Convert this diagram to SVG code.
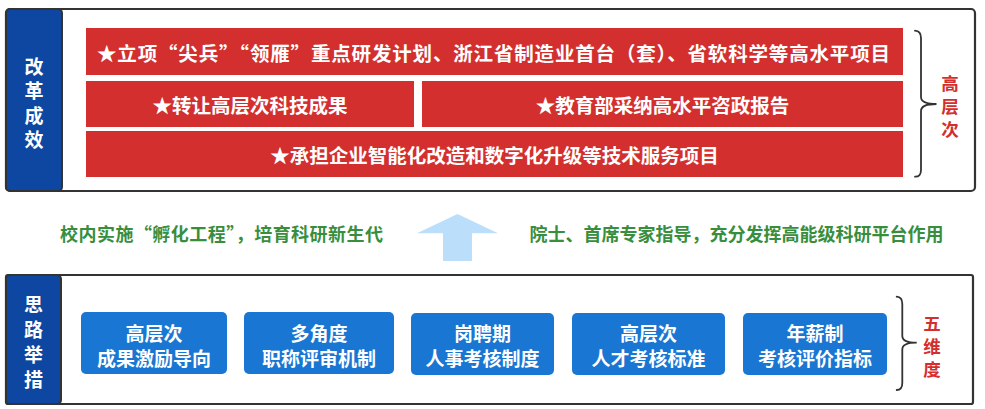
<svg xmlns="http://www.w3.org/2000/svg" width="985" height="409" viewBox="0 0 985 409">
<style>
text{font-family:"Noto Sans CJK SC","Noto Sans",sans-serif;font-weight:700;}
.frame{fill:#fff;stroke:#333;stroke-width:2.2;}
.label{fill:#0D47A1;stroke:#333;stroke-width:2;}
.lt{fill:#fff;font-size:19px;text-anchor:middle;dominant-baseline:central;}
.red{fill:#D32F2F;}
.rt{fill:#fff;font-size:19.5px;text-anchor:middle;dominant-baseline:central;}
.blue{fill:#1976D2;}
.bt{fill:#fff;font-size:19px;text-anchor:middle;dominant-baseline:central;}
.gt{fill:#388E3C;font-size:18px;text-anchor:middle;dominant-baseline:central;}
.side{fill:#D32F2F;font-size:17.5px;text-anchor:middle;dominant-baseline:central;}
.brace{fill:none;stroke:#333;stroke-width:1.8;stroke-linecap:round;}
</style>

<g id="top-panel">
  <rect class="frame" x="6" y="9" width="969" height="182" rx="4"/>
  <rect class="label" x="6" y="9" width="56" height="182" rx="4"/>
  <text class="lt" x="34" y="65">改</text>
  <text class="lt" x="34" y="89.5">革</text>
  <text class="lt" x="34" y="114">成</text>
  <text class="lt" x="34" y="138.5">效</text>
</g>

<g id="result-1">
  <rect class="red" x="86" y="28" width="817" height="47"/>
  <text class="rt" x="493.5" y="52" textLength="793" lengthAdjust="spacing">★立项“尖兵”“领雁”重点研发计划、浙江省制造业首台（套）、省软科学等高水平项目</text>
</g>
<g id="result-2">
  <rect class="red" x="86" y="81" width="328" height="46"/>
  <text class="rt" x="250" y="104.5">★转让高层次科技成果</text>
</g>
<g id="result-3">
  <rect class="red" x="422" y="81" width="481" height="46"/>
  <text class="rt" x="662.5" y="104.5">★教育部采纳高水平咨政报告</text>
</g>
<g id="result-4">
  <rect class="red" x="86" y="131" width="817" height="46"/>
  <text class="rt" x="494.5" y="154.5">★承担企业智能化改造和数字化升级等技术服务项目</text>
</g>

<g id="tag-high">
  <text class="side" x="950" y="82.5">高</text>
  <text class="side" x="950" y="105.5">层</text>
  <text class="side" x="950" y="128.5">次</text>
</g>

<g id="note-left">
  <text class="gt" x="221.5" y="233" textLength="323" lengthAdjust="spacing">校内实施“孵化工程”，培育科研新生代</text>
</g>
<g id="note-right">
  <text class="gt" x="736.5" y="233">院士、首席专家指导，充分发挥高能级科研平台作用</text>
</g>

<g id="bottom-panel">
  <rect class="frame" x="6" y="275" width="967" height="129" rx="2"/>
  <rect class="label" x="6" y="275" width="55" height="129" rx="4"/>
  <text class="lt" x="33.5" y="303">思</text>
  <text class="lt" x="33.5" y="328">路</text>
  <text class="lt" x="33.5" y="353">举</text>
  <text class="lt" x="33.5" y="378">措</text>
</g>

<g id="measure-1">
  <rect class="blue" x="81" y="312" width="146" height="62" rx="5"/>
  <text class="bt" x="154" y="332.5">高层次</text>
  <text class="bt" x="154" y="357">成果激励导向</text>
</g>
<g id="measure-2">
  <rect class="blue" x="244" y="312" width="150" height="62" rx="5"/>
  <text class="bt" x="319" y="332.5">多角度</text>
  <text class="bt" x="319" y="357">职称评审机制</text>
</g>
<g id="measure-3">
  <rect class="blue" x="411" y="313" width="143" height="62" rx="5"/>
  <text class="bt" x="482.5" y="332.5">岗聘期</text>
  <text class="bt" x="482.5" y="357">人事考核制度</text>
</g>
<g id="measure-4">
  <rect class="blue" x="572" y="313" width="153" height="62" rx="5"/>
  <text class="bt" x="648.5" y="332.5">高层次</text>
  <text class="bt" x="648.5" y="357">人才考核标准</text>
</g>
<g id="measure-5">
  <rect class="blue" x="743" y="313" width="144" height="62" rx="5"/>
  <text class="bt" x="815" y="332.5">年薪制</text>
  <text class="bt" x="815" y="357">考核评价指标</text>
</g>

<g id="tag-five">
  <text class="side" x="932" y="322.5">五</text>
  <text class="side" x="932" y="345.5">维</text>
  <text class="side" x="932" y="368.5">度</text>
</g>

<g id="connectors">
  <polygon fill="#BBDEFB" points="457.5,214 498,233.3 472,233.3 472,261 443,261 443,233.3 417,233.3"/>
  <path class="brace" d="M915,30.7 Q921,31 921,38 L921,97 Q921,104 936.5,104 Q921,104 921,111 L921,170 Q921,177 915,176.7"/>
  <path class="brace" d="M896.7,296.7 Q902.3,297 902.3,304 L902.3,336 Q902.3,342.7 916.7,342.7 Q902.3,342.7 902.3,349.5 L902.3,383 Q902.3,390 896.7,390"/>
</g>
</svg>
